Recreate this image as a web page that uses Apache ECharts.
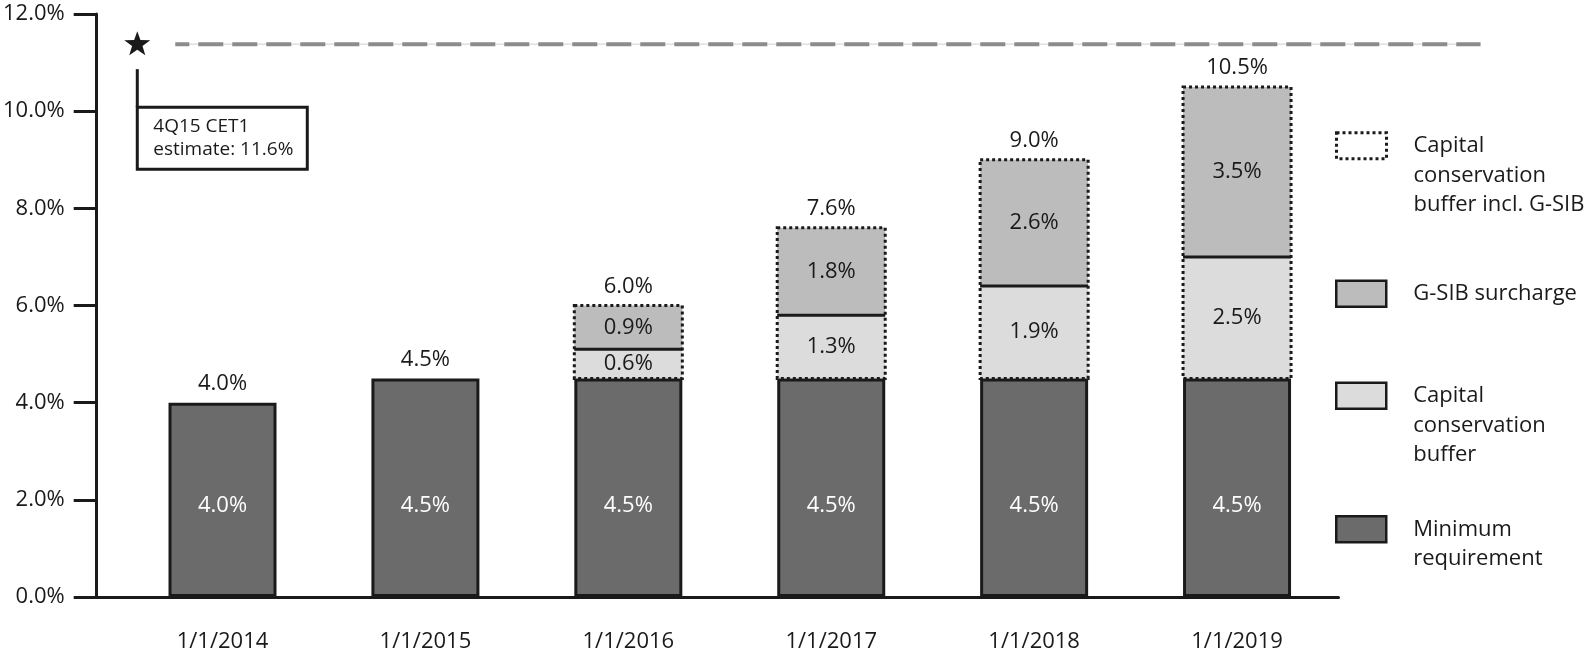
<!DOCTYPE html>
<html><head><meta charset="utf-8">
<script src="https://cdn.jsdelivr.net/npm/echarts@6/dist/echarts.min.js"></script>
<style>html,body{margin:0;padding:0;background:#fff}#c{width:1593px;height:657px}</style>
</head><body><div id="c"></div>
<script>
// ---- data ----
const categories = ['1/1/2014','1/1/2015','1/1/2016','1/1/2017','1/1/2018','1/1/2019'];
const minimumRequirement = [4.0, 4.5, 4.5, 4.5, 4.5, 4.5];
const conservationBuffer = [null, null, 0.6, 1.3, 1.9, 2.5];
const gsibSurcharge = [null, null, 0.9, 1.8, 2.6, 3.5];
const totalLabels = [4.0, 4.5, 6.0, 7.6, 9.0, 10.5];
const cet1Point = [-0.42, 11.4];
const cet1Text = ['4Q15 CET1', 'estimate: 11.6%'];

const S_MIN = 'Minimum requirement', S_BUF = 'Capital conservation buffer',
      S_GSIB = 'G-SIB surcharge', S_ALL = 'Capital conservation buffer incl. G-SIB';
const legendText = {};
legendText[S_ALL] = '\n\nCapital\nconservation\nbuffer incl. G-SIB';
legendText[S_GSIB] = 'G-SIB surcharge';
legendText[S_BUF] = '\n\nCapital\nconservation\nbuffer';
legendText[S_MIN] = '\nMinimum\nrequirement';

const FONT = '"Open Sans", "Noto Sans", sans-serif';
const INK = '#1a1a1a';
const BAR_W = 108;
const pct = v => Number(v).toFixed(1) + '%';

function mkLegend(name, top, itemStyle) {
  return {
    show: true, orient: 'vertical', left: 1335, top: top, padding: 0,
    itemWidth: 50, itemHeight: 26, icon: 'rect', selectedMode: false,
    data: [{ name: name, itemStyle: itemStyle }],
    formatter: n => legendText[n],
    textStyle: { fontFamily: FONT, fontSize: 22, color: INK, lineHeight: 29.5, padding: [0, 0, 0, 22] }
  };
}

// segments stacked on top of the minimum requirement, built from the arrays above
function segments(lowerArr, valueArr) {
  const out = [];
  categories.forEach((c, i) => {
    if (valueArr[i] == null) return;
    const start = minimumRequirement[i] + (lowerArr ? (lowerArr[i] || 0) : 0);
    out.push([i, start, start + valueArr[i], valueArr[i]]);
  });
  return out;
}
function segmentRenderer(fill) {
  return function (params, api) {
    const i = api.value(0), s = api.value(1), e = api.value(2), v = api.value(3);
    const p0 = api.coord([i, s]), p1 = api.coord([i, e]);
    return { type: 'group', children: [
      { type: 'rect', shape: { x: p0[0] - BAR_W / 2, y: p1[1], width: BAR_W, height: p0[1] - p1[1] }, style: { fill: fill } },
      { type: 'text', style: { text: pct(v), x: p0[0], y: (p0[1] + p1[1]) / 2, align: 'center', verticalAlign: 'middle',
          fill: INK, font: '22px ' + FONT } }
    ] };
  };
}

const chart = echarts.init(document.getElementById('c'), null, { renderer: 'canvas' });
chart.setOption({
  animation: false,
  backgroundColor: '#fff',
  textStyle: { fontFamily: FONT },
  grid: { left: 96, top: 14, width: 1242.5, height: 583 },
  legend: [
    mkLegend(S_ALL, 72, { color: 'rgba(255,255,255,0)', borderColor: INK, borderWidth: 3, borderType: [3, 3] }),
    mkLegend(S_GSIB, 279, { color: '#bcbcbc', borderColor: INK, borderWidth: 2.5 }),
    mkLegend(S_BUF, 322, { color: '#dcdcdc', borderColor: INK, borderWidth: 2.5 }),
    mkLegend(S_MIN, 485, { color: '#6b6b6b', borderColor: INK, borderWidth: 2.5 })
  ],
  xAxis: {
    type: 'value', min: -0.62, max: 5.5,
    axisLine: { show: true, onZero: false, lineStyle: { color: INK, width: 3 } },
    axisTick: { show: false }, splitLine: { show: false },
    axisLabel: {
      customValues: categories.map((c, i) => i),
      formatter: v => categories[Math.round(v)] || '',
      fontFamily: FONT, fontSize: 22, color: INK, margin: 34
    }
  },
  yAxis: {
    type: 'value', min: 0, max: 12, interval: 2,
    axisLine: { show: true, onZero: false, lineStyle: { color: INK, width: 3 } },
    axisTick: { show: true, length: 23, lineStyle: { color: INK, width: 3 } },
    splitLine: { show: false },
    axisLabel: { formatter: v => pct(v), fontFamily: FONT, fontSize: 22, color: INK, margin: 32 }
  },
  series: [
    {
      name: S_MIN, type: 'bar', barWidth: BAR_W, z: 3,
      data: categories.map((c, i) => [i, minimumRequirement[i]]),
      itemStyle: { color: '#6b6b6b', borderColor: INK, borderWidth: 3 },
      label: { show: true, position: 'insideBottom', distance: 80, color: '#fff', fontSize: 22, fontFamily: FONT,
               formatter: p => pct(p.value[1]) }
    },
    {
      name: S_BUF, type: 'custom', z: 2, silent: true,
      data: segments(null, conservationBuffer),
      encode: { x: 0, y: 2 },
      renderItem: segmentRenderer('#dcdcdc')
    },
    {
      name: S_GSIB, type: 'custom', z: 2, silent: true,
      data: segments(conservationBuffer, gsibSurcharge),
      encode: { x: 0, y: 2 },
      renderItem: segmentRenderer('#bcbcbc')
    },
    {
      name: S_ALL, type: 'custom', z: 5, silent: true,
      data: categories.map((c, i) => [
        i, minimumRequirement[i], totalLabels[i],
        minimumRequirement[i] + (conservationBuffer[i] || 0),
        conservationBuffer[i] == null ? 0 : 1
      ]),
      encode: { x: 0, y: 2 },
      renderItem: function (params, api) {
        const i = api.value(0), base = api.value(1), total = api.value(2), div = api.value(3), has = api.value(4);
        const top = api.coord([i, total]), bot = api.coord([i, base]), mid = api.coord([i, div]);
        const w = BAR_W;
        const children = [];
        if (has) {
          children.push({ type: 'rect', shape: { x: top[0] - w / 2, y: top[1], width: w, height: bot[1] - top[1] },
            style: { fill: 'none', stroke: INK, lineWidth: 3, lineDash: [3, 3] } });
          children.push({ type: 'line', shape: { x1: top[0] - w / 2, y1: mid[1], x2: top[0] + w / 2, y2: mid[1] },
            style: { stroke: INK, lineWidth: 3 } });
        }
        children.push({ type: 'text', style: { text: pct(total), x: top[0], y: top[1] - 19, align: 'center',
          verticalAlign: 'middle', fill: INK, font: '22px ' + FONT } });
        return { type: 'group', children: children };
      }
    },
    {
      name: 'cet1', type: 'scatter', z: 6, silent: true,
      data: [cet1Point],
      symbol: 'path://M12 0 L14.9 8.3 L24 8.6 L16.8 14 L19.4 22.8 L12 17.6 L4.6 22.8 L7.2 14 L0 8.6 L9.1 8.3 Z',
      symbolSize: [26, 24],
      itemStyle: { color: INK, opacity: 1 }
    },
    {
      name: 'cet1Note', type: 'custom', z: 4, silent: true,
      data: [cet1Point],
      renderItem: function (params, api) {
        const p = api.coord([api.value(0), api.value(1)]);
        const end = api.coord([6.2, api.value(1)]);
        return { type: 'group', children: [
          { type: 'line', shape: { x1: p[0] + 38, y1: p[1] + 1, x2: end[0], y2: p[1] + 1 }, style: { stroke: '#cfcfcf', lineWidth: 1 } },
          { type: 'line', shape: { x1: p[0] + 38, y1: p[1] + 1, x2: end[0], y2: p[1] + 1 },
            style: { stroke: '#8c8c8c', lineWidth: 4, lineDash: [25, 9], lineDashOffset: 11 } },
          { type: 'line', shape: { x1: p[0], y1: p[1] + 26, x2: p[0], y2: p[1] + 64 }, style: { stroke: INK, lineWidth: 3 } },
          { type: 'rect', shape: { x: p[0], y: p[1] + 64, width: 170, height: 62 }, style: { fill: '#fff', stroke: INK, lineWidth: 3 } },
          { type: 'text', style: { text: cet1Text.join('\n'), x: p[0] + 16, y: p[1] + 72, align: 'left', verticalAlign: 'top',
            fill: INK, font: '19px ' + FONT, lineHeight: 23 } }
        ] };
      }
    }
  ]
});
</script></body></html>
